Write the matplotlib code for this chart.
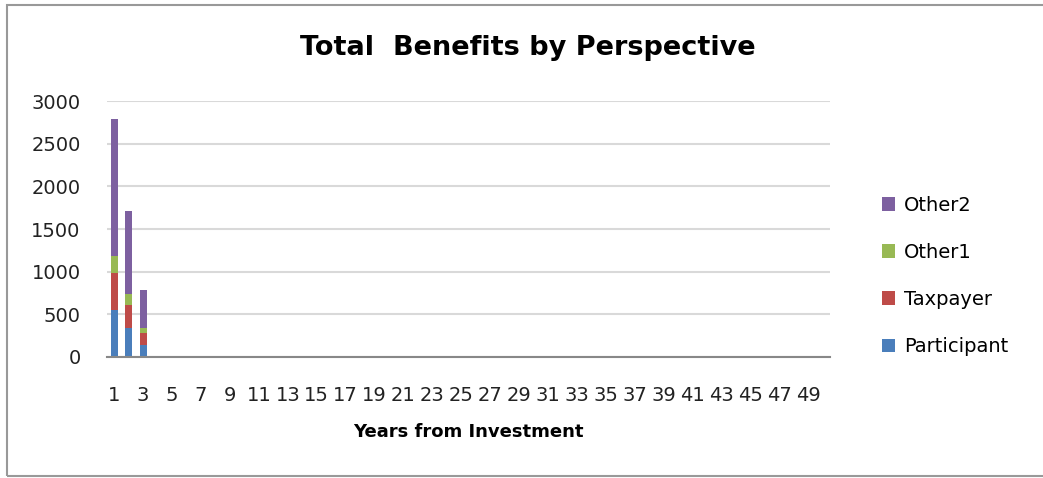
import numpy as np
import matplotlib.pyplot as plt
from matplotlib.patches import Rectangle

plt.rcParams['font.family'] = ['DejaVu Sans']

years = np.arange(1, 51)
participant = [548, 338, 143] + [0] * 47
taxpayer = [442, 272, 137] + [0] * 47
other1 = [192, 125, 58] + [0] * 47
other2 = [1607, 980, 444] + [0] * 47

series = [('Participant', participant, '#4a7ebb'),
          ('Taxpayer', taxpayer, '#be4b48'),
          ('Other1', other1, '#98b954'),
          ('Other2', other2, '#7d60a0')]

W, H = 1043, 478
fig = plt.figure(figsize=(W / 100, H / 100), dpi=100)
ax = fig.add_axes([107 / W, 1 - 357 / H, 723 / W, 256 / H])

bottom = np.zeros(len(years))
handles = []
for name, vals, col in series:
    h = ax.bar(years, vals, 0.48, bottom=bottom, color=col, label=name)
    handles.append(h)
    bottom += np.array(vals)

ax.set_xlim(0.5, 50.5)
ax.set_ylim(0, 3000)
ax.set_yticks(np.arange(0, 3001, 500))
ax.set_xticks(years[::2])
ax.grid(axis='y', color='#d9d9d9', linewidth=1.5)
ax.set_axisbelow(True)
for s in ['top', 'right', 'left']:
    ax.spines[s].set_visible(False)
ax.spines['bottom'].set_color('#888888')
ax.spines['bottom'].set_linewidth(1.5)
ax.tick_params(axis='both', length=0, labelsize=14, colors='#222222')
ax.tick_params(axis='x', pad=28)
ax.tick_params(axis='y', pad=19)
for lbl in ax.get_xticklabels():
    lbl.set_va('center')

ax.set_xlabel('Years from Investment', fontsize=13, fontweight='bold')
ax.xaxis.set_label_coords(0.5, -(432 - 357) / 256)
ax.xaxis.label.set_va('center')
fig.text(528 / W, 1 - 48 / H, 'Total  Benefits by Perspective', ha='center', va='center',
         fontsize=19.5, fontweight='bold')

leg = fig.legend(handles[::-1], [s[0] for s in series][::-1], loc='center left',
                 bbox_to_anchor=(864 / W, 1 - 276 / H), frameon=False,
                 fontsize=14, handlelength=0.7, handleheight=0.7,
                 labelspacing=1.45, handletextpad=0.45)

fig.patches.append(Rectangle((7 / W, 2 / H), 1100 / W, 471 / H,
                             transform=fig.transFigure, fill=False,
                             edgecolor='#999999', linewidth=1.5))

fig.savefig('out.png', dpi=100)
